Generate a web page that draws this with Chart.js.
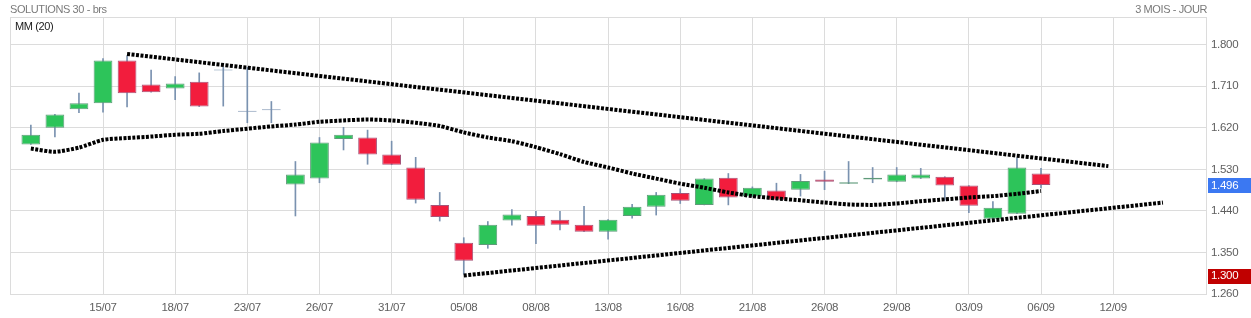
<!DOCTYPE html>
<html><head><meta charset="utf-8">
<script src="https://cdn.jsdelivr.net/npm/chart.js@4.4.0/dist/chart.umd.min.js"></script>
<style>html,body{margin:0;padding:0;background:#fff;}canvas{display:block;}</style>
</head><body>
<canvas id="c" width="1251" height="318"></canvas>
<script>
// ---- data ----
const dates = ['10/07','11/07','12/07','15/07','16/07','17/07','18/07','19/07','22/07','23/07','24/07','25/07','26/07','29/07','30/07','31/07','01/08','02/08','05/08','06/08','07/08','08/08','09/08','12/08','13/08','14/08','15/08','16/08','19/08','20/08','21/08','22/08','23/08','26/08','27/08','28/08','29/08','30/08','02/09','03/09','04/09','05/09','06/09'];
const opens  = [1.584,1.620,1.660,1.673,1.766,1.714,1.705,1.720,1.744,1.655,1.658,1.497,1.510,1.596,1.599,1.562,1.534,1.453,1.371,1.366,1.419,1.429,1.421,1.410,1.395,1.429,1.449,1.479,1.453,1.512,1.471,1.484,1.486,1.508,1.499,1.508,1.503,1.510,1.514,1.495,1.423,1.434,1.521];
const highs  = [1.626,1.649,1.695,1.770,1.776,1.745,1.731,1.739,1.751,1.751,1.677,1.547,1.599,1.621,1.615,1.591,1.556,1.480,1.382,1.417,1.443,1.439,1.439,1.450,1.421,1.454,1.480,1.488,1.510,1.521,1.492,1.500,1.519,1.526,1.547,1.534,1.534,1.532,1.514,1.495,1.460,1.555,1.532];
const lows   = [1.584,1.600,1.653,1.654,1.665,1.697,1.681,1.666,1.667,1.631,1.631,1.429,1.501,1.572,1.541,1.540,1.457,1.418,1.303,1.359,1.409,1.369,1.399,1.395,1.379,1.424,1.431,1.456,1.453,1.453,1.471,1.464,1.472,1.486,1.499,1.501,1.503,1.510,1.463,1.436,1.423,1.434,1.490];
const closes = [1.605,1.649,1.673,1.766,1.695,1.697,1.716,1.666,1.744,1.655,1.658,1.519,1.588,1.605,1.562,1.540,1.464,1.427,1.332,1.410,1.432,1.408,1.410,1.395,1.421,1.449,1.475,1.462,1.510,1.469,1.490,1.464,1.505,1.503,1.502,1.512,1.519,1.519,1.495,1.451,1.447,1.534,1.496];
const ma20   = [1.575,1.568,1.577,1.594,1.598,1.601,1.605,1.607,1.613,1.618,1.623,1.627,1.633,1.636,1.638,1.636,1.631,1.624,1.610,1.599,1.591,1.578,1.563,1.546,1.534,1.521,1.510,1.499,1.490,1.480,1.472,1.467,1.463,1.458,1.454,1.453,1.456,1.461,1.465,1.469,1.472,1.477,1.483];
const resistanceX = [4, 44.8];
const resistanceY = [1.780, 1.537];
const supportX = [18, 47.07];
const supportY = [1.300, 1.458];
const tickPositions = [3,6,9,12,15,18,21,24,27,30,33,36,39,42,45];
const tickLabels = ['15/07','18/07','23/07','26/07','31/07','05/08','08/08','13/08','16/08','21/08','26/08','29/08','03/09','06/09','12/09'];
const yTicks = [1.26,1.35,1.44,1.53,1.62,1.71,1.80];
const lastPrice = 1.496;
const supportLevel = 1.300;
const titleLeft = 'SOLUTIONS 30 - brs';
const titleRight = '3 MOIS - JOUR';
const legendText = 'MM (20)';

// ---- styles ----
const X_MIN = -0.867, X_MAX = 48.86, Y_MIN = 1.26, Y_MAX = 1.86;
const UP = '#2dc45a', UP_B = '#5f9a7a', DN = '#f21d3d', DN_B = '#a65378', WICK = '#7a92b0';
const GRID = '#dcdcdc', FONT = '"Liberation Sans", Arial, sans-serif', TXT = '#5f5f5f';

const idx = dates.map((d,i)=>i);
const bodyColor = idx.map(i => closes[i] > opens[i] ? UP : closes[i] < opens[i] ? DN : WICK);
const bodyBorder = idx.map(i => closes[i] > opens[i] ? UP_B : closes[i] < opens[i] ? DN_B : WICK);

const extras = {
  id: 'extras',
  beforeDraw(chart) { chart.ctx.letterSpacing = '-0.3px'; },
  afterDraw(chart) {
    const ctx = chart.ctx, a = chart.chartArea, y = chart.scales.y;
    ctx.save();
    ctx.letterSpacing = '-0.4px';
    ctx.font = '11px ' + FONT;
    ctx.fillStyle = '#7a7a7a';
    ctx.textBaseline = 'alphabetic';
    ctx.textAlign = 'left';
    ctx.fillText(titleLeft, a.left, 13);
    ctx.textAlign = 'right';
    ctx.fillText(titleRight, a.right + 1, 13);
    ctx.textAlign = 'left';
    ctx.fillStyle = '#1a1a1a';
    ctx.fillText(legendText, a.left + 5, 29.5);
    // badges
    ctx.letterSpacing = '-0.3px';
    ctx.font = '11.5px ' + FONT;
    ctx.textBaseline = 'middle';
    [[lastPrice, '#3b78f2'], [supportLevel, '#c00000']].forEach(([v, col]) => {
      const py = y.getPixelForValue(v);
      ctx.fillStyle = col;
      ctx.fillRect(a.right + 2, Math.round(py) - 7, chart.width - a.right - 2, 15);
      ctx.fillStyle = '#fff';
      ctx.fillText(v.toFixed(3), a.right + 5, py + 0.5);
    });
    ctx.restore();
  }
};

new Chart(document.getElementById('c'), {
  type: 'bar',
  data: {
    datasets: [
      { type: 'line', label: 'res', data: resistanceX.map((x,i)=>({x, y: resistanceY[i]})),
        borderColor: '#000', borderWidth: 4, borderDash: [3,1.5], borderCapStyle: 'butt', pointRadius: 0, order: 1 },
      { type: 'line', label: 'sup', data: supportX.map((x,i)=>({x, y: supportY[i]})),
        borderColor: '#000', borderWidth: 4, borderDash: [3,1.5], borderCapStyle: 'butt', pointRadius: 0, order: 1 },
      { type: 'line', label: 'MM (20)', data: idx.map(i=>({x:i, y: ma20[i]})),
        borderColor: '#000', borderWidth: 4, borderDash: [3,1.5], borderCapStyle: 'butt', pointRadius: 0, tension: 0.2, order: 1 },
      { label: 'body', data: idx.map(i=>({x:i, y:[opens[i], closes[i]]})),
        backgroundColor: bodyColor, borderColor: bodyBorder, borderWidth: 1, borderSkipped: false,
        barPercentage: 0.78, categoryPercentage: 1, minBarLength: 1, grouped: false, order: 2 },
      { label: 'wick', data: idx.map(i=>({x:i, y:[lows[i], highs[i]]})),
        backgroundColor: WICK, borderWidth: 0, barThickness: 1, grouped: false, order: 3 }
    ]
  },
  options: {
    responsive: false, animation: false, devicePixelRatio: 1,
    layout: { padding: { left: 10, top: 17, right: 0, bottom: 0 } },
    plugins: { legend: { display: false }, tooltip: { enabled: false } },
    scales: {
      x: {
        type: 'linear', min: X_MIN, max: X_MAX, offset: false,
        grid: { color: GRID, drawTicks: false, offset: false },
        border: { color: GRID },
        afterBuildTicks: s => { s.ticks = [X_MIN, ...tickPositions].map(v=>({value:v})); },
        afterFit: s => { s.height = 24; },
        ticks: { autoSkip: false, maxRotation: 0, padding: 7, color: TXT, font: { family: FONT, size: 11.5 },
          callback: v => { const k = tickPositions.indexOf(v); return k >= 0 ? tickLabels[k] : ''; } }
      },
      y: {
        position: 'right', min: Y_MIN, max: Y_MAX,
        grid: { color: GRID, drawTicks: false },
        border: { color: GRID },
        afterBuildTicks: s => { s.ticks = [...yTicks, Y_MAX].map(v=>({value:v})); },
        afterFit: s => { s.width = 45; },
        ticks: { padding: 5, color: TXT, font: { family: FONT, size: 11.5 },
          callback: v => (v === Y_MAX ? '' : v.toFixed(3)) }
      }
    }
  },
  plugins: [extras]
});
</script>
</body></html>
